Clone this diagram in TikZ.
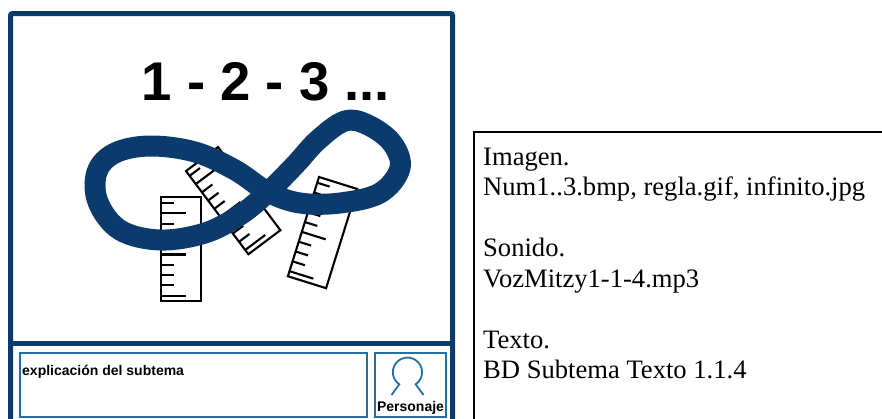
\documentclass[tikz,border=0pt]{standalone}
\usepackage{fontspec}
\setmainfont{Liberation Serif}
\newfontfamily\arial{Liberation Sans}
\definecolor{marino}{HTML}{0B3B6C}
\definecolor{azulcaja}{HTML}{2370A2}

% una regla: esquina superior izquierda y giro
\newcommand{\regla}[2]{%
  \begin{scope}[shift={#1},rotate=#2]
    \draw[reglaborde,fill=white] (0,0) rectangle (40,104);
    \foreach \i/\l in {0/13,1/25,2/13,3/13,4/13,5/25,6/13,7/13,8/13,9/25}
      \draw[reglaborde] (0,6+10.3*\i) -- ++(\l,0);
  \end{scope}}

\begin{document}
\begin{tikzpicture}[x=1pt,y=-1pt,
    marco/.style={draw=marino,line width=5pt},
    caja/.style={draw=azulcaja,line width=2pt,rectangle,inner sep=0pt,anchor=north west},
    reglaborde/.style={draw=black,line width=2.1pt},
    infinito/.style={draw=marino,line width=21pt,line join=round},
    rotulo/.style={font=\arial\bfseries\fontsize{14}{16}\selectfont,inner sep=0pt},
    recurso/.style={font=\fontsize{26.6}{30}\selectfont,anchor=base west,inner sep=0pt}]
  \useasboundingbox (0,0) rectangle (882,418);
  \clip (0,0) rectangle (882,418);

  % pantalla
  \draw[marco,rounded corners=2pt] (10.5,440) |- (452.5,13.5) -- (452.5,440);
  \draw[marco] (10.5,343) -- (452.5,343);

  \node[font=\arial\bfseries\fontsize{54.5}{60}\selectfont,anchor=base west,inner sep=0pt] (numeros) at (141.5,100) {1 - 2 - 3 ...};

  % reglas
  \regla{(161,197)}{0}
  \regla{(186,171)}{36.87}
  \regla{(319,177)}{-17.4}

  % infinito
  \draw[infinito] plot[smooth cycle,tension=0.6] coordinates {
    (345,121) (318,140) (295,165) (268,192) (240,215) (205,233)
    (160,240) (120,230) (98,202) (97,172) (115,153) (150,146)
    (195,152) (235,170) (268,192) (300,203) (340,203) (380,193)
    (400,168) (392,143) (368,125)};

  % parte de abajo
  \node[caja,minimum width=347pt,minimum height=64pt] (explicacion) at (19,352) {};
  \node[rotulo,anchor=base west] (textoexp) at (22,375) {explicación del subtema};
  \node[caja,minimum width=71pt,minimum height=64pt] (personaje) at (374,352) {};
  \draw[azulcaja,line width=1.8pt] (391.5,395) -- (399.3,384.3)
    arc[start angle=124,end angle=416,radius=14.6] -- (423.5,395);
  \node[rotulo,anchor=base] (nombre) at (410.5,411) {Personaje};

  % recursos
  \draw[line width=1.3pt] (474,440) |- (900,132);
  \node[recurso] (imagen) at (483,165) {Imagen.};
  \node[recurso] (archivos) at (483,195.5) {Num1..3.bmp, regla.gif, infinito.jpg};
  \node[recurso] (sonido) at (483,256.5) {Sonido.};
  \node[recurso] (voz) at (483,287) {VozMitzy1-1-4.mp3};
  \node[recurso] (texto) at (483,348) {Texto.};
  \node[recurso] (bd) at (483,378) {BD Subtema Texto 1.1.4};
\end{tikzpicture}
\end{document}
